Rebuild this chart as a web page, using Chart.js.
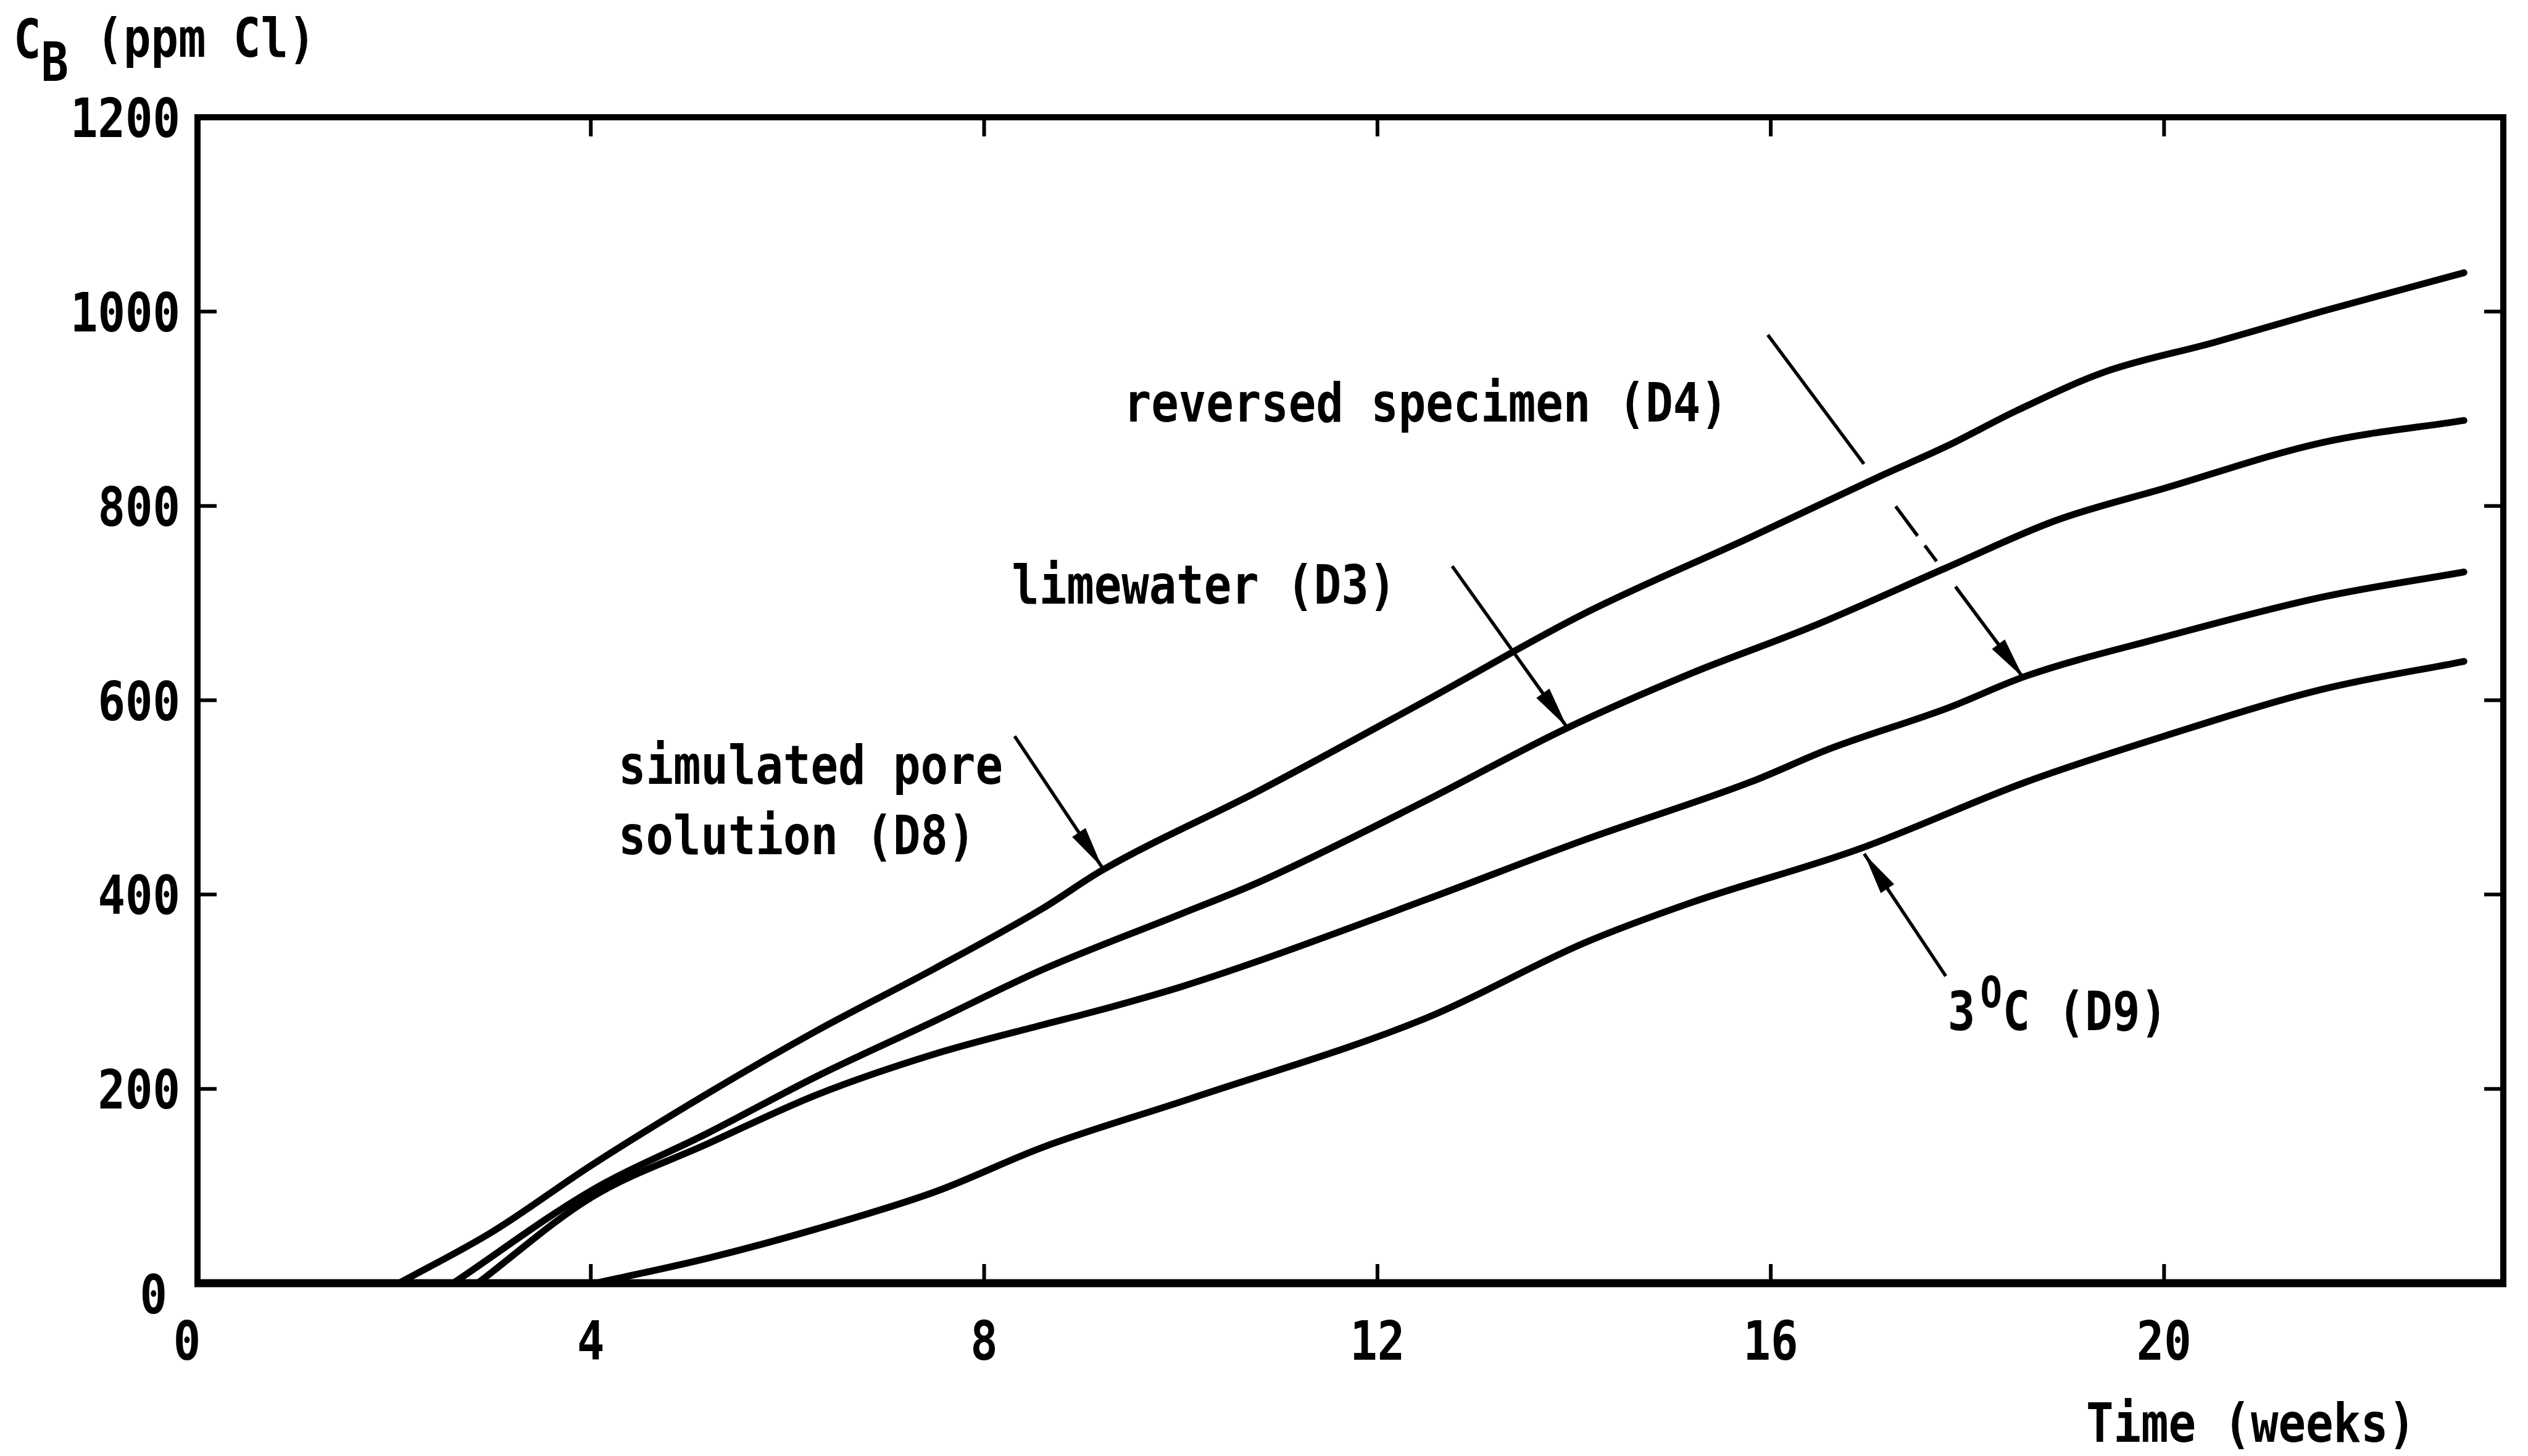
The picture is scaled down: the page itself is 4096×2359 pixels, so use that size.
<!DOCTYPE html>
<html>
<head>
<meta charset="utf-8">
<title>Chloride in bath vs time</title>
<script src="https://cdn.jsdelivr.net/npm/chart.js@4.4.1/dist/chart.umd.min.js"></script>
<style>
  html, body { margin: 0; padding: 0; background: #fff; }
  canvas { display: block; }
</style>
</head>
<body>
<canvas id="chart" width="4096" height="2359"></canvas>
<script>
// chloride in the bath (ppm Cl) against time (weeks), one pair of arrays per curve
const poreWeeks = [2.05, 3.0, 4.0, 5.2, 6.3, 7.5, 8.6, 9.2, 10.8, 12.5, 14.1, 15.8, 17.1, 17.8, 18.5, 19.4, 20.5, 21.6, 23.05];
const porePpm   = [0, 53, 121, 196, 260, 324, 386, 425, 507, 600, 689, 768, 830, 862, 898, 938, 968, 1000, 1040];

const limeWeeks = [2.6, 4.0, 5.2, 6.3, 7.5, 8.6, 10.0, 10.8, 12.5, 13.9, 15.2, 16.4, 17.8, 18.9, 20.0, 21.6, 23.05];
const limePpm   = [0, 95, 155, 213, 270, 323, 380, 413, 497, 570, 628, 675, 737, 785, 818, 865, 888];

const revWeeks = [2.85, 4.0, 5.2, 6.3, 7.5, 8.6, 9.1, 10.0, 10.8, 12.5, 14.1, 15.8, 16.6, 17.8, 18.6, 20.0, 21.6, 23.05];
const revPpm   = [0, 88, 144, 194, 236, 266, 279, 305, 332, 395, 456, 516, 550, 592, 625, 665, 706, 732];

const coldWeeks = [4.05, 5.2, 6.3, 7.5, 8.6, 10.1, 12.5, 14.1, 15.2, 16.9, 18.6, 20.0, 21.6, 23.05];
const coldPpm   = [0, 26, 56, 94, 140, 190, 273, 350, 392, 447, 516, 563, 611, 640];

const X_MAX = 23.45;
const Y_MAX = 1200;

// curve labels and their pointer arrows, placed in data units
const notes = [
  { text: 'reversed specimen (D4)', at: [9.42, 907] },
  { text: 'limewater (D3)', at: [8.28, 720] },
  { text: 'simulated pore', at: [4.28, 534] },
  { text: 'solution (D8)', at: [4.28, 462] }
];
const arrows = [
  { from: [8.31, 563], to: [9.2, 428] },
  { from: [12.76, 738], to: [13.93, 572] },
  // runs across the two upper curves, broken where it passes them
  { from: [15.97, 976], to: [18.57, 623], pieces: [[0, 0.376], [0.50, 0.586], [0.614, 0.66], [0.734, 1]] },
  { from: [17.78, 316], to: [16.95, 442] }
];

const FONT = '"DejaVu Sans Mono", "Liberation Mono", monospace';
const SIZE = 88;
const SQUEEZE = 0.84;
const PITCH = 0.602 * SIZE * SQUEEZE;

function pairs(xs, ys) {
  return xs.map((x, i) => ({ x: x, y: ys[i] }));
}

// condensed typewriter-style text, cy is the middle of the capitals
function say(ctx, str, x, cy, align, size) {
  size = size || SIZE;
  ctx.save();
  ctx.font = 'bold ' + size + 'px ' + FONT;
  ctx.textAlign = align;
  ctx.textBaseline = 'alphabetic';
  ctx.fillStyle = '#000';
  ctx.translate(x, cy + 0.729 * size / 2);
  ctx.scale(SQUEEZE, 1);
  ctx.fillText(str, 0, 0);
  ctx.restore();
}

function arrowHead(ctx, x0, y0, x1, y1) {
  const a = Math.atan2(y1 - y0, x1 - x0);
  const len = 68, half = 13;
  ctx.save();
  ctx.translate(x1, y1);
  ctx.rotate(a);
  ctx.beginPath();
  ctx.moveTo(0, 0);
  ctx.lineTo(-len, -half);
  ctx.lineTo(-len, half);
  ctx.closePath();
  ctx.fill();
  ctx.restore();
}

const decor = {
  id: 'decor',
  afterDatasetsDraw(chart) {
    const ctx = chart.ctx;
    const xs = chart.scales.x, ys = chart.scales.y;
    const area = chart.chartArea;
    const tick = 31;

    ctx.save();
    ctx.strokeStyle = '#000';
    ctx.fillStyle = '#000';
    ctx.lineCap = 'butt';

    // frame, the time axis a little heavier
    ctx.lineWidth = 10;
    ctx.strokeRect(area.left, area.top, area.right - area.left, area.bottom - area.top);
    ctx.lineWidth = 13;
    ctx.beginPath();
    ctx.moveTo(area.left - 5, area.bottom);
    ctx.lineTo(area.right + 5, area.bottom);
    ctx.stroke();

    // inward ticks on all four sides
    ctx.lineWidth = 6;
    ctx.beginPath();
    xs.ticks.forEach(t => {
      const px = xs.getPixelForValue(t.value);
      ctx.moveTo(px, area.bottom); ctx.lineTo(px, area.bottom - tick);
      ctx.moveTo(px, area.top); ctx.lineTo(px, area.top + tick);
    });
    ys.ticks.forEach(t => {
      const py = ys.getPixelForValue(t.value);
      ctx.moveTo(area.left, py); ctx.lineTo(area.left + tick, py);
      ctx.moveTo(area.right, py); ctx.lineTo(area.right - tick, py);
    });
    ctx.stroke();

    // tick labels
    ys.ticks.forEach(t => {
      const py = ys.getPixelForValue(t.value);
      if (t.value === 0) say(ctx, '0', area.left - 49, py + 17, 'right');
      else say(ctx, String(t.value), area.left - 28, py, 'right');
    });
    xs.ticks.forEach(t => {
      const px = xs.getPixelForValue(t.value);
      say(ctx, String(t.value), t.value === 0 ? px - 17 : px, area.bottom + 92, 'center');
    });

    // axis titles
    say(ctx, 'C', 22, 62, 'left');
    say(ctx, 'B', 22 + PITCH, 99, 'left');
    say(ctx, '(ppm Cl)', 22 + 3 * PITCH, 60, 'left');
    say(ctx, 'Time (weeks)', 3380, 2304, 'left');

    // curve labels
    notes.forEach(n => {
      say(ctx, n.text, xs.getPixelForValue(n.at[0]), ys.getPixelForValue(n.at[1]), 'left');
    });
    const cx = xs.getPixelForValue(17.8), cy = ys.getPixelForValue(281);
    say(ctx, '3 C (D9)', cx, cy, 'left');
    say(ctx, 'O', cx + 1.58 * PITCH, cy - 30, 'center', 70);

    // arrows
    ctx.lineWidth = 5.5;
    arrows.forEach(a => {
      const x0 = xs.getPixelForValue(a.from[0]), y0 = ys.getPixelForValue(a.from[1]);
      const x1 = xs.getPixelForValue(a.to[0]), y1 = ys.getPixelForValue(a.to[1]);
      const pieces = a.pieces || [[0, 1]];
      ctx.beginPath();
      pieces.forEach(p => {
        ctx.moveTo(x0 + (x1 - x0) * p[0], y0 + (y1 - y0) * p[0]);
        ctx.lineTo(x0 + (x1 - x0) * p[1], y0 + (y1 - y0) * p[1]);
      });
      ctx.stroke();
      arrowHead(ctx, x0, y0, x1, y1);
    });

    ctx.restore();
  }
};

const curve = (label, xs, ys) => ({
  label: label,
  data: pairs(xs, ys),
  borderColor: '#000',
  borderWidth: 11,
  pointRadius: 0,
  fill: false,
  cubicInterpolationMode: 'monotone',
  borderCapStyle: 'round',
  borderJoinStyle: 'round'
});

new Chart(document.getElementById('chart'), {
  type: 'line',
  data: {
    datasets: [
      curve('simulated pore solution (D8)', poreWeeks, porePpm),
      curve('limewater (D3)', limeWeeks, limePpm),
      curve('reversed specimen (D4)', revWeeks, revPpm),
      curve('3°C (D9)', coldWeeks, coldPpm)
    ]
  },
  options: {
    responsive: false,
    devicePixelRatio: 1,
    animation: false,
    layout: { padding: { top: 190, right: 40, left: 0, bottom: 0 } },
    plugins: { legend: { display: false }, tooltip: { enabled: false } },
    scales: {
      x: {
        type: 'linear',
        min: 0,
        max: X_MAX,
        ticks: { stepSize: 4, includeBounds: false, display: false },
        grid: { display: false },
        border: { display: false },
        afterFit(s) { s.height = 280; }
      },
      y: {
        min: 0,
        max: Y_MAX,
        ticks: { stepSize: 200, display: false },
        grid: { display: false },
        border: { display: false },
        afterFit(s) { s.width = 320; }
      }
    }
  },
  plugins: [decor]
});
</script>
</body>
</html>
